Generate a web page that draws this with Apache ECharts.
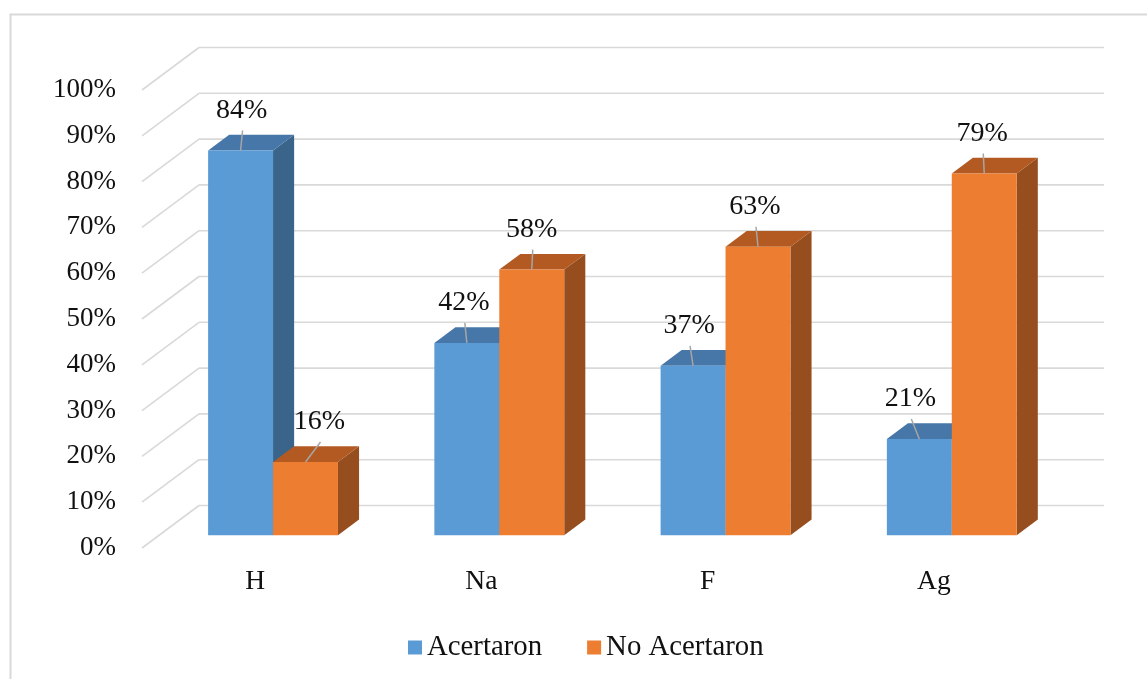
<!DOCTYPE html>
<html>
<head>
<meta charset="utf-8">
<script src="https://cdn.jsdelivr.net/npm/echarts@6/dist/echarts.min.js"></script>
<style>
  html, body { margin: 0; padding: 0; background: #fff; }
  #chart { width: 1147px; height: 679px; }
</style>
</head>
<body>
<div id="chart"></div>
<script>
// Chart data
const categories = ['H', 'Na', 'F', 'Ag'];
const acertaron = [84, 42, 37, 21];
const noAcertaron = [16, 58, 63, 79];
const yTicks = [0, 10, 20, 30, 40, 50, 60, 70, 80, 90, 100];

// Horizontal nudges for the value labels (px), per series
const labelShiftX = [[1, -3, -4, -9], [14, 0, -3, -2]];

const FONT = '"Liberation Serif", "Times New Roman", serif';
const TEXT = '#111';
const GRID_LINE = '#d9d9d9';

// pseudo-3D geometry: full depth vector and where the bars sit in depth
const DEPTH = [57, -42.5];
const BAR_FRONT = 0.3, BAR_BACK = 0.67;
const BAR_PAD = 0.2166, BAR_W = 0.287;

const palettes = [
  { front: '#5B9BD5', top: '#4677A8', side: '#3A6489' },
  { front: '#ED7D31', top: '#B35A22', side: '#974E1E' }
];

function barGeom(api, s) {
  const ci = api.value(0), v = api.value(1);
  const base = api.coord([ci, 0]);
  const top = api.coord([ci, v]);
  const band = api.size([1, 0])[0];
  const x0 = base[0] - band / 2 + band * (BAR_PAD + s * BAR_W) + DEPTH[0] * BAR_FRONT;
  const x1 = x0 + band * BAR_W;
  const yb = base[1] + DEPTH[1] * BAR_FRONT;
  const yt = top[1] + DEPTH[1] * BAR_FRONT;
  const dx = DEPTH[0] * (BAR_BACK - BAR_FRONT), dy = DEPTH[1] * (BAR_BACK - BAR_FRONT);
  return { x0, x1, yb, yt, dx, dy, v, ci };
}

function barRenderer(s) {
  const c = palettes[s];
  return function (params, api) {
    const g = barGeom(api, s);
    return {
      type: 'group',
      children: [
        { type: 'polygon', shape: { points: [[g.x1, g.yb], [g.x1 + g.dx, g.yb + g.dy], [g.x1 + g.dx, g.yt + g.dy], [g.x1, g.yt]] }, style: { fill: c.side } },
        { type: 'polygon', shape: { points: [[g.x0, g.yt], [g.x1, g.yt], [g.x1 + g.dx, g.yt + g.dy], [g.x0 + g.dx, g.yt + g.dy]] }, style: { fill: c.top } },
        { type: 'rect', shape: { x: g.x0, y: g.yt, width: g.x1 - g.x0, height: g.yb - g.yt }, style: { fill: c.front } }
      ]
    };
  };
}

function labelRenderer(s) {
  return function (params, api) {
    const g = barGeom(api, s);
    const cx = (g.x0 + g.x1) / 2;
    const lx = cx + labelShiftX[s][g.ci];
    const ly = g.yt - 40;
    return {
      type: 'group',
      children: [
        { type: 'line', shape: { x1: lx + 1, y1: ly + 20, x2: cx, y2: g.yt }, style: { stroke: '#a6a6a6', lineWidth: 1.5 } },
        { type: 'text', x: lx, y: ly, style: { text: g.v + '%', fill: TEXT, font: '28px ' + FONT, align: 'center', verticalAlign: 'middle' } }
      ]
    };
  };
}

function wallRenderer(params, api) {
  const cs = params.coordSys;
  const y = api.coord([0, api.value(1)])[1];
  const bx = cs.x + DEPTH[0], by = y + DEPTH[1];
  return {
    type: 'group',
    children: [
      { type: 'line', shape: { x1: cs.x, y1: y, x2: bx, y2: by }, style: { stroke: GRID_LINE, lineWidth: 1.6 } },
      { type: 'line', shape: { x1: bx, y1: by, x2: bx + cs.width, y2: by }, style: { stroke: GRID_LINE, lineWidth: 1.6 } }
    ]
  };
}

const toPairs = arr => arr.map((v, i) => [i, v]);

const chart = echarts.init(document.getElementById('chart'), null, { renderer: 'canvas' });
chart.setOption({
  backgroundColor: '#fff',
  animation: false,
  graphic: [{
    type: 'rect', left: 8, top: 12, z: -10,
    shape: { x: 0, y: 0, width: 1300, height: 800 },
    style: { fill: 'none', stroke: GRID_LINE, lineWidth: 2 }
  }],
  grid: { left: 142, top: 90, width: 905, height: 458, containLabel: false },
  legend: {
    data: ['Acertaron', 'No Acertaron'],
    left: 403, top: 628,
    icon: 'rect', itemWidth: 14, itemHeight: 14, itemGap: 45,
    textStyle: { fontFamily: FONT, fontSize: 28.8, color: TEXT }
  },
  xAxis: {
    type: 'category', data: categories,
    axisLine: { show: false }, axisTick: { show: false }, splitLine: { show: false },
    axisLabel: { fontFamily: FONT, fontSize: 27.5, color: TEXT, margin: 20 }
  },
  yAxis: {
    type: 'value', min: 0, max: 100, interval: 10,
    axisLine: { show: false }, axisTick: { show: false }, splitLine: { show: false },
    axisLabel: { formatter: '{value}%', fontFamily: FONT, fontSize: 27, color: TEXT, margin: 26 }
  },
  series: [
    { type: 'custom', name: 'walls', clip: false, silent: true, z: 1, renderItem: wallRenderer, data: toPairs(yTicks), encode: { x: 0, y: 1 } },
    { type: 'custom', name: 'Acertaron', clip: false, z: 2, itemStyle: { color: palettes[0].front }, renderItem: barRenderer(0), data: toPairs(acertaron), encode: { x: 0, y: 1 } },
    { type: 'custom', name: 'No Acertaron', clip: false, z: 3, itemStyle: { color: palettes[1].front }, renderItem: barRenderer(1), data: toPairs(noAcertaron), encode: { x: 0, y: 1 } },
    { type: 'custom', name: 'labels0', clip: false, silent: true, z: 5, renderItem: labelRenderer(0), data: toPairs(acertaron), encode: { x: 0, y: 1 } },
    { type: 'custom', name: 'labels1', clip: false, silent: true, z: 5, renderItem: labelRenderer(1), data: toPairs(noAcertaron), encode: { x: 0, y: 1 } }
  ]
});
</script>
</body>
</html>
